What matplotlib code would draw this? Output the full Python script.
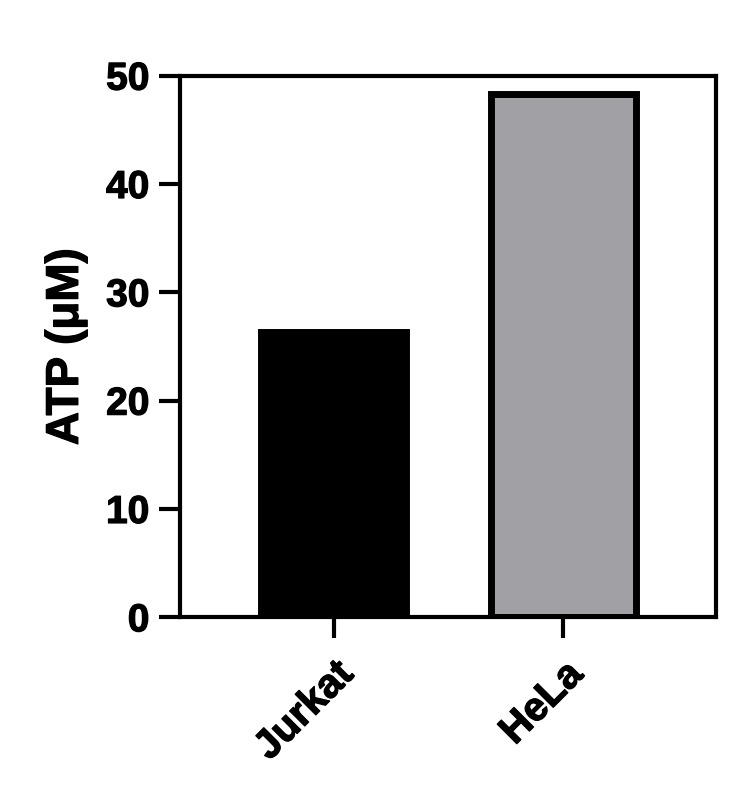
import matplotlib
matplotlib.use("Agg")
import matplotlib.pyplot as plt
import matplotlib.patheffects as pe

plt.rcParams["font.family"] = ["Liberation Sans", "DejaVu Sans"]
plt.rcParams["font.weight"] = "bold"

# ── Data ──────────────────────────────────────────────────────────────────────
cell_lines = ["Jurkat", "HeLa"]
atp_um = [26.3, 48.3]
bar_fill = ["#000000", "#a1a0a5"]
y_ticks = [0, 10, 20, 30, 40, 50]

# ── Figure ────────────────────────────────────────────────────────────────────
fig = plt.figure(figsize=(7.44, 8.0), dpi=100)
ax = fig.add_axes([0.2419, 0.2284, 0.7198, 0.677])

x = list(range(len(cell_lines)))
ax.bar(x, atp_um, width=0.631, color=bar_fill, edgecolor="black",
       linewidth=5.0, zorder=2)

ax.set_xlim(-0.668, 1.662)
ax.set_ylim(0, 50)
ax.set_yticks(y_ticks)
ax.set_xticks(x)
ax.set_xticklabels(cell_lines, rotation=45, ha="right", va="top",
                   rotation_mode="anchor")

for side in ["left", "right", "top", "bottom"]:
    ax.spines[side].set_linewidth(3.0)
    ax.spines[side].set_color("black")

ax.tick_params(axis="both", direction="out", length=15, width=3.0,
               labelsize=28, colors="black")
ax.tick_params(axis="y", pad=7)
ax.tick_params(axis="x", pad=12)

bold_fx = [pe.withStroke(linewidth=0.9, foreground="black")]
for lab in ax.get_xticklabels() + ax.get_yticklabels():
    lab.set_fontweight("bold")
    lab.set_path_effects(bold_fx)
for lab in ax.get_xticklabels():
    lab.set_fontsize(29)

ax.set_ylabel("ATP (μM)", fontsize=33, fontweight="bold", path_effects=bold_fx)
ax.yaxis.set_label_coords(-0.172, 0.5)

fig.savefig("out.png", dpi=100)
